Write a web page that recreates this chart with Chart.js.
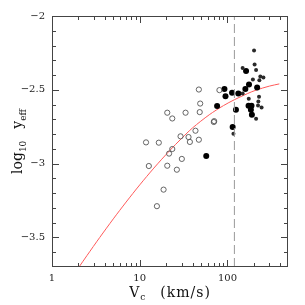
<!DOCTYPE html>
<html>
<head>
<meta charset="utf-8">
<script src="https://cdn.jsdelivr.net/npm/chart.js@4"></script>
<style>
html, body { margin: 0; padding: 0; background: #fff; }
#wrap { width: 305px; height: 305px; }
</style>
</head>
<body>
<div id="wrap"><canvas id="yieldChart" width="305" height="305"></canvas></div>
<script>
// open circles (low mass galaxies)
const openVc = [47.2, 48.9, 20.6, 33.3, 48.3, 23.5, 43.2, 29.2, 36.0, 37.3, 47.2, 11.8, 16.5, 23.5, 21.6, 30.2, 12.7, 20.6, 26.5, 18.7, 15.7, 81, 69.9, 70.6];
const openY  = [-2.498, -2.593, -2.655, -2.655, -2.651, -2.694, -2.777, -2.815, -2.82, -2.853, -2.838, -2.856, -2.858, -2.901, -2.932, -2.968, -3.016, -3.014, -3.041, -3.176, -3.288, -2.502, -2.718, -2.712];

// filled circles
const filledVc = [57.3, 92.4, 95, 76.2, 112.8, 133, 125, 114.6, 160, 176, 163, 218, 174, 188, 185, 190];
const filledY  = [-2.948, -2.495, -2.543, -2.61, -2.52, -2.525, -2.635, -2.752, -2.495, -2.464, -2.372, -2.484, -2.608, -2.608, -2.635, -2.669];

// small dark points
const smallVc = [201, 204, 212, 149, 195, 237, 257, 231, 149, 175, 229, 225, 223, 245, 212, 117];
const smallY  = [-2.234, -2.329, -2.365, -2.353, -2.43, -2.41, -2.417, -2.435, -2.525, -2.561, -2.547, -2.579, -2.606, -2.619, -2.696, -2.797];

// model curve
const curveVc = [2.0, 2.5, 3.5, 5, 7, 10, 14.5, 22, 30, 40, 62, 90, 120, 170, 212, 300, 390];
const curveY  = [-3.706, -3.623, -3.5, -3.374, -3.26, -3.144, -3.03, -2.911, -2.829, -2.758, -2.669, -2.607, -2.567, -2.525, -2.502, -2.475, -2.46];

// dashed marker
const dashVc = 120;

const xTicks = [1, 10, 100];
const yTicks = [-3.5, -3, -2.5, -2];
const xMin = 1, xMax = 490, yMin = -3.7, yMax = -2;

function pts(xs, ys) { return xs.map((x, i) => ({ x: x, y: ys[i] })); }

const serif = '"DejaVu Serif", "Liberation Serif", serif';

// boxed frame with inward ticks + axis titles with subscripts
const frame = {
  id: 'frame',
  afterDraw(chart) {
    const ctx = chart.ctx, a = chart.chartArea;
    const sx = chart.scales.x, sy = chart.scales.y;
    ctx.save();
    ctx.strokeStyle = '#444';
    ctx.lineWidth = 1;
    ctx.strokeRect(Math.round(a.left) + 0.5, Math.round(a.top) + 0.5,
      Math.round(a.right - a.left) - 1, Math.round(a.bottom - a.top) - 1);

    ctx.beginPath();
    [1, 10, 100].forEach(d => {
      for (let k = 1; k <= 9; k++) {
        const v = d * k;
        if (v <= xMin || v >= xMax) continue;
        const px = Math.round(sx.getPixelForValue(v)) + 0.5;
        const len = k === 1 ? 7 : 4;
        ctx.moveTo(px, a.bottom); ctx.lineTo(px, a.bottom - len);
        ctx.moveTo(px, a.top); ctx.lineTo(px, a.top + len);
      }
    });
    for (let i = -36; i <= -21; i++) {
      const py = Math.round(sy.getPixelForValue(i / 10)) + 0.5;
      const len = i % 5 === 0 ? 7 : 4;
      ctx.moveTo(a.left, py); ctx.lineTo(a.left + len, py);
      ctx.moveTo(a.right, py); ctx.lineTo(a.right - len, py);
    }
    ctx.stroke();

    // x title: V_c   (km/s)
    ctx.fillStyle = '#111';
    ctx.textBaseline = 'alphabetic';
    ctx.textAlign = 'left';
    const big = '14px ' + serif, sub = '9px ' + serif;
    ctx.letterSpacing = '1px';
    ctx.font = big; const wV = ctx.measureText('V').width;
    ctx.font = sub; const wc = ctx.measureText('c').width;
    ctx.font = big; const wk = ctx.measureText('(km/s)').width;
    const gap = 14;
    let x0 = (a.left + a.right) / 2 - (wV + wc + gap + wk) / 2;
    const yb = 297;
    ctx.font = big; ctx.fillText('V', x0, yb);
    ctx.font = sub; ctx.fillText('c', x0 + wV, yb + 3);
    ctx.font = big; ctx.fillText('(km/s)', x0 + wV + wc + gap, yb);

    // y title: log10  y_eff (rotated)
    ctx.translate(22, (a.top + a.bottom) / 2);
    ctx.rotate(-Math.PI / 2);
    ctx.letterSpacing = '0px';
    ctx.font = big; const wl = ctx.measureText('log').width;
    ctx.font = sub; const w10 = ctx.measureText('10').width;
    ctx.font = big; const wy = ctx.measureText('y').width;
    ctx.font = sub; const we = ctx.measureText('eff').width;
    const g2 = 12;
    let t = -(wl + w10 + g2 + wy + we) / 2;
    ctx.font = big; ctx.fillText('log', t, 0); t += wl;
    ctx.font = sub; ctx.fillText('10', t, 4); t += w10 + g2;
    ctx.font = big; ctx.fillText('y', t, 0); t += wy;
    ctx.font = sub; ctx.fillText('eff', t, 4);
    ctx.restore();
  }
};

new Chart(document.getElementById('yieldChart'), {
  type: 'scatter',
  data: {
    datasets: [
      {
        type: 'line',
        data: [{ x: dashVc, y: yMin }, { x: dashVc, y: yMax }],
        borderColor: '#9a9a9a',
        borderWidth: 1,
        borderDash: [9, 4],
        pointRadius: 0
      },
      {
        data: pts(openVc, openY),
        pointStyle: 'circle',
        pointRadius: 2.6,
        borderColor: '#555',
        borderWidth: 0.9,
        backgroundColor: 'rgba(255,255,255,0)'
      },
      {
        data: pts(smallVc, smallY),
        pointRadius: 2,
        borderWidth: 0,
        backgroundColor: '#2a2a2a'
      },
      {
        data: pts(filledVc, filledY),
        pointRadius: 3,
        borderWidth: 0,
        backgroundColor: '#000'
      },
      {
        type: 'line',
        data: pts(curveVc, curveY),
        borderColor: '#ff5a5a',
        borderWidth: 1,
        pointRadius: 0,
        tension: 0.3
      }
    ]
  },
  options: {
    responsive: false,
    animation: false,
    devicePixelRatio: 1,
    layout: { padding: { top: 16, right: 17, left: 0, bottom: 0 } },
    plugins: { legend: { display: false }, tooltip: { enabled: false } },
    scales: {
      x: {
        type: 'logarithmic',
        min: xMin,
        max: xMax,
        grid: { display: false, drawTicks: false },
        border: { display: false },
        afterBuildTicks: s => { s.ticks = xTicks.map(v => ({ value: v })); },
        afterFit: s => { s.height = 38; },
        ticks: {
          padding: 5,
          maxRotation: 0,
          autoSkip: false,
          color: '#222',
          font: { family: serif, size: 10 },
          callback: v => String(v)
        }
      },
      y: {
        min: yMin,
        max: yMax,
        grid: { display: false, drawTicks: false },
        border: { display: false },
        afterBuildTicks: s => { s.ticks = yTicks.map(v => ({ value: v })); },
        afterFit: s => { s.width = 52; },
        ticks: {
          padding: 7,
          color: '#222',
          font: { family: serif, size: 10 },
          callback: v => String(v).replace('-', '\u2212')
        }
      }
    }
  },
  plugins: [frame]
});
</script>
</body>
</html>
